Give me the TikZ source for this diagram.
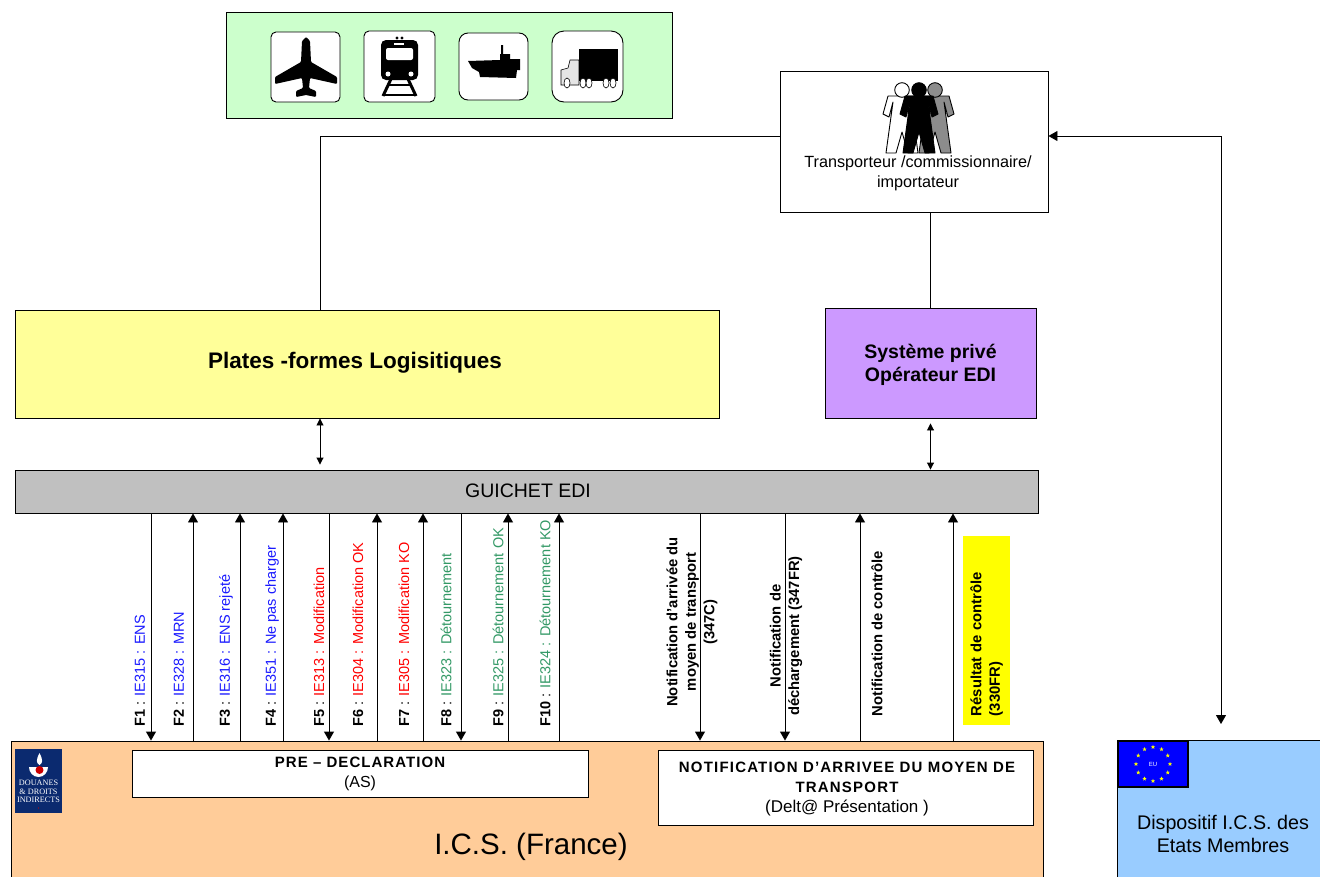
\documentclass[tikz,border=0pt]{standalone}
\usepackage{fontspec}
\setmainfont{Liberation Sans}
\newfontfamily\logofont{Liberation Serif}
\usetikzlibrary{arrows.meta}
\usetikzlibrary{calc}
\usetikzlibrary{shapes.geometric}

\definecolor{transportgreen}{HTML}{CCFFCC}
\definecolor{platesyellow}{HTML}{FFFF99}
\definecolor{edipurple}{HTML}{CC99FF}
\definecolor{guichetgray}{HTML}{C0C0C0}
\definecolor{icsorange}{HTML}{FFCC99}
\definecolor{eublue}{HTML}{99CCFF}
\definecolor{logonavy}{HTML}{0B2A6F}
\definecolor{flowblue}{HTML}{1A1AFF}
\definecolor{flowred}{HTML}{FF0000}
\definecolor{flowgreen}{HTML}{339966}
\definecolor{pureyellow}{RGB}{255,255,0}
\definecolor{flagblue}{RGB}{0,0,255}

\newcommand{\fsize}[1]{\fontsize{#1}{#1}\selectfont}

\tikzset{
  box/.style={draw=black, line width=0.9pt, inner sep=0pt},
  iconbox/.style={box, fill=white, rounded corners=#1},
  flowlabel/.style={rotate=90, anchor=west, inner sep=0pt, font=\fsize{14.5}},
  notiflabel/.style={rotate=90, inner sep=0pt, align=center,
    font=\fontsize{14.8}{18.5}\selectfont\bfseries},
  eustar/.style={star, star points=5, star point ratio=2.4, fill=pureyellow,
    inner sep=0pt, minimum size=4.5pt},
  person/.pic={
    \draw[pic actions, line join=round] (-14,6) -- (14,6) -- (19,24) -- (13,27)
    -- (9,12) -- (16,63) -- (6,63) -- (0,42) -- (-6,63) -- (-16,63) -- (-9,12)
    -- (-13,27) -- (-19,24) -- cycle;
    \draw[pic actions] (0,0) circle (7.3);
  }
}

\begin{document}
\begin{tikzpicture}[x=1pt, y=-1pt, line width=0.9pt,
    >={Triangle[length=9pt, width=10pt]}]

  \clip (0,0) rectangle (1320,876);
  \fill[white] (0,0) rectangle (1320,876);

  % transport modes
  \node[box, fill=transportgreen, minimum width=446pt, minimum height=106pt]
  (modes) at (449,65) {};
  \node[iconbox=5pt, minimum width=69pt, minimum height=70pt] (plane) at (305.5,67) {};
  \node[iconbox=5pt, minimum width=71pt, minimum height=71pt] (train) at (399.5,66.5) {};
  \node[iconbox=9pt, minimum width=69pt, minimum height=67pt] (ship) at (493.5,66.5) {};
  \node[iconbox=12pt, minimum width=71pt, minimum height=71pt] (truck) at (587.5,66.5) {};

  \fill[rounded corners=1pt] (302,41) -- (301,62) -- (275,77) -- (275,84) -- (302,78)
  -- (303,88) -- (296,91) -- (296,97) -- (306,95) -- (316,97) -- (316,91) -- (309,88)
  -- (310,78) -- (337,84) -- (337,77) -- (311,62) -- (310,41) -- (306,37) -- cycle;

  \fill (397,38) circle (1.7);
  \fill (402,38) circle (1.7);
  \fill[rounded corners=5pt] (381,40) rectangle (418,80);
  \fill[white] (394,43) rectangle (404,45);
  \fill[white, rounded corners=2pt] (386,48) rectangle (413,60);
  \fill[white] (388,74) circle (2.5);
  \fill[white] (411,74) circle (2.5);
  \draw[line width=3pt] (391,79) -- (383,96);
  \draw[line width=3pt] (408,79) -- (416,96);
  \draw[line width=2.5pt] (387,85) -- (412,85);
  \draw[line width=2.5pt] (383,95) -- (416,95);

  \fill (468,61) -- (500,60) -- (500,54) -- (501,54) -- (501,45) -- (503,45) -- (503,54)
  -- (510,54) -- (510,59) -- (520,59) -- (520,70) -- (517,70) -- (516,78) -- (480,77)
  -- (479,72) -- (472,68) -- cycle;

  \draw[fill=black!10, line width=0.6pt] (561,85) -- (561,70) -- (568,68) -- (570,60)
  -- (579,60) -- (579,85) -- cycle;
  \fill (579,49) rectangle (618,81);
  \foreach \wx in {567,583,589,606,613} {
    \draw[fill=white, line width=0.6pt] (\wx,83) ellipse (3 and 5);
  }

  % operator
  \node[box, fill=white, minimum width=268pt, minimum height=141pt]
  (transporteur) at (914,141.5) {};
  \path (902,90) pic[draw=black, fill=white] {person};
  \path (935,90) pic[draw=black, fill=black!45] {person};
  \path (919,90) pic[draw=black, fill=black] {person};
  \node[align=center, font=\fontsize{16.2}{20}\selectfont] (transporteurtext) at (918,173.5)
  {Transporteur /commissionnaire/\\importateur};

  % platforms
  \node[box, fill=platesyellow, minimum width=704pt, minimum height=108pt] (plates) at (367,364) {};
  \node[font=\fsize{22.5}\bfseries] (platestext) at (355,363) {Plates -formes Logisitiques};
  \node[box, fill=edipurple, minimum width=211pt, minimum height=110pt] (systeme) at (930.5,363) {};
  \node[align=center, font=\fontsize{19.5}{23}\selectfont\bfseries] (systemetext) at (930.5,364.5)
  {Système privé\\Opérateur EDI};
  \node[box, fill=guichetgray, minimum width=1023pt, minimum height=43pt] (guichet) at (526.5,491.5) {};
  \node[font=\fsize{19.5}, inner sep=0pt] (guichettext) at (528,490.5) {GUICHET EDI};

  % national system
  \node[box, fill=icsorange, minimum width=1032pt, minimum height=160pt]
  (ics) at (527,821) {};
  \node[font=\fsize{29.5}] (icstext) at (531,846.5) {I.C.S. (France)};
  \node[box, fill=white, minimum width=456pt, minimum height=47pt] (predecl) at (360,773.5) {};
  \node[align=center, font=\fontsize{16}{20}\selectfont] (predecltext) at (360,774)
  {{\fontsize{15}{20}\selectfont\bfseries\addfontfeature{LetterSpace=7}PRE – DECLARATION}\\(AS)};
  \node[box, fill=white, minimum width=375pt, minimum height=75pt] (arrivee) at (845.5,787.5) {};
  \node[align=center, font=\fontsize{17}{20}\selectfont] (arriveetext) at (847,789.5)
  {{\fontsize{15}{20}\selectfont\bfseries\addfontfeature{LetterSpace=8}NOTIFICATION D’ARRIVEE DU MOYEN DE}\\
    {\fontsize{15}{20}\selectfont\bfseries\addfontfeature{LetterSpace=8}TRANSPORT}\\(Delt@ Présentation )};

  % customs logo
  \node[fill=logonavy, minimum width=47pt, minimum height=64pt, inner sep=0pt]
  (logo) at (38.5,781) {};
  \fill[white] (29,767) arc (180:0:9.5 and 10) -- cycle;
  \fill[white] (39.5,753) .. controls (43,760) and (43,763) .. (39.5,765)
  .. controls (36,763) and (36,760) .. (39.5,753);
  \fill[red!80!black] (39.5,770) circle (4);
  \node[align=center, text=white, inner sep=0pt,
  font=\fontsize{8.2}{8.6}\selectfont\logofont] (logotext) at (38.5,791.5)
  {DOUANES\\\& DROITS\\INDIRECTS};
  \fill[red!80!black] (38.5,808) circle (0.7);

  % member states
  \node[box, fill=eublue, minimum width=215pt, minimum height=150pt]
  (etats) at (1224.5,815) {};
  \node[box, fill=flagblue, minimum width=70pt, minimum height=46pt, line width=1.2pt]
  (flag) at (1153,764) {};
  \foreach \a in {0,30,...,330} {
    \node[eustar] (star\a) at ($(flag)+(\a:17)$) {};
  }
  \node[text=white, inner sep=0pt, font=\fsize{6}] (flagtext) at (flag) {EU};
  \node[align=center, font=\fontsize{19.7}{23}\selectfont] (etatstext) at (1223,834)
  {Dispositif I.C.S. des\\Etats Membres};

  % links between the upper boxes
  \coordinate (euend) at (1221,724);
  \draw (plates.north -| 320,0) |- (transporteur.west |- 0,136);
  \draw (transporteur.south -| systeme.north) -- (systeme.north);
  \draw[<->, >={Triangle[length=7pt, width=7pt]}, shorten >=5pt]
  (plates.south -| 320,0) -- (guichet.north -| 320,0);
  \draw[<->, >={Triangle[length=7pt, width=7pt]}, shorten <=5pt]
  (systeme.south) -- (guichet.north -| systeme.south);
  \draw[<->] (transporteur.east |- 0,136) -| (euend);

  % flows
  \foreach \fx in {151,329,461,700,785} {
    \draw[->] (guichet.south -| \fx,0) -- (ics.north -| \fx,0);
  }
  \foreach \fx in {193,240,283,377,423,508,559,860,953} {
    \draw[<-] (guichet.south -| \fx,0) -- (ics.north -| \fx,0);
  }

  \foreach \lx/\lnum/\ltext/\lcol in {
    140/F1/IE315 : ENS/flowblue,
    179/F2/IE328 :  MRN/flowblue,
    226/F3/IE316 : ENS rejeté/flowblue,
    272/F4/IE351 : Ne pas charger/flowblue,
    319/F5/IE313 : Modification/flowred,
    358/F6/IE304 : Modification OK/flowred,
    404/F7/IE305 : Modification KO/flowred,
    446/F8/IE323 : Détournement/flowgreen,
    498/F9/IE325 : Détournement OK/flowgreen,
    545/F10/IE324 : Détournement KO/flowgreen} {
    \node[flowlabel] (label\lnum) at (\lx,727)
    {\textbf{\lnum} : \textcolor{\lcol}{\ltext}};
  }

  \node[notiflabel] (notifarrivee) at (692,622)
  {Notification d’arrivée du\\moyen de transport\\(347C)};
  \node[notiflabel] (notifdecharge) at (786,636)
  {Notification de\\déchargement (347FR)};
  \node[notiflabel] (notifcontrole) at (877,633.5) {Notification de contrôle};
  \node[notiflabel, fill=pureyellow, text width=171pt, align=left, inner xsep=9pt,
  minimum height=47pt] (resultat) at (986.5,630.5)
  {Résultat de contrôle\\(330FR)};

\end{tikzpicture}
\end{document}
